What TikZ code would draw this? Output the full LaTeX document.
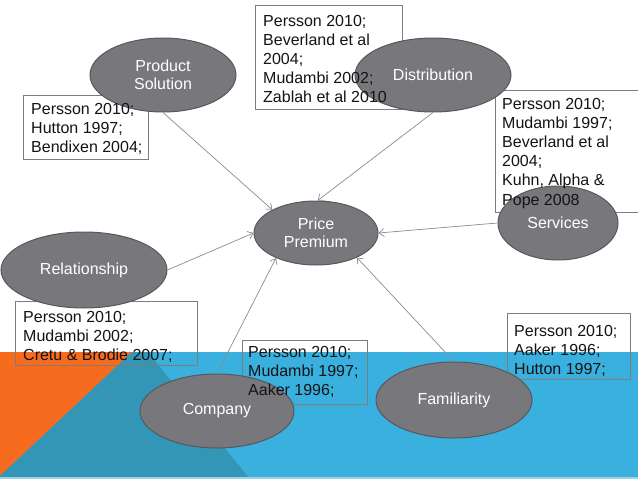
\documentclass[tikz,border=0pt]{standalone}
\usepackage{fontspec}
\setmainfont{Liberation Sans}
\usetikzlibrary{shapes.geometric,arrows.meta}
\definecolor{bandblue}{RGB}{57,176,222}
\definecolor{bandteal}{RGB}{52,150,183}
\definecolor{bandorange}{RGB}{247,107,30}
\definecolor{bandlight}{RGB}{160,208,228}
\definecolor{ellfill}{RGB}{120,120,124}
\definecolor{ellborder}{RGB}{88,88,92}
\definecolor{boxborder}{RGB}{125,125,125}
\definecolor{arrowgray}{RGB}{140,140,140}
\definecolor{reftext}{RGB}{20,20,20}
\tikzset{
  refbox/.style={draw=boxborder, line width=0.8pt, anchor=north west, inner sep=0pt},
  reftxt/.style={anchor=base west, inner sep=0pt, align=left, text=reftext,
    font=\fontsize{16}{18.8}\selectfont},
  ell/.style={ellipse, draw=ellborder, line width=1pt, fill=ellfill, inner sep=0pt,
    text=white, align=center, font=\fontsize{16}{18.5}\selectfont},
  arr/.style={draw=arrowgray, line width=0.7pt, -{Straight Barb[length=5pt,width=8pt]}}
}
\begin{document}
\begin{tikzpicture}[x=1pt,y=-1pt]
\useasboundingbox (0,0) rectangle (638,479);
\fill[white] (0,0) rectangle (638,479);
\fill[bandblue] (0,352) rectangle (638,479);
\fill[bandorange] (0,352) -- (132,352) -- (0,476) -- cycle;
\fill[bandteal] (132,352) -- (148,352) -- (248,477) -- (0,477) -- (0,476) -- cycle;
\fill[bandlight] (0,477) rectangle (638,479);

% reference boxes (borders)
\node[refbox, minimum width=147pt, minimum height=104pt] (btop) at (255,5) {};
\node[refbox, minimum width=125pt, minimum height=64pt] (bprod) at (23,95) {};
\node[refbox, minimum width=150pt, minimum height=122pt] (bdist) at (495,90) {};
\node[refbox, minimum width=182pt, minimum height=64pt] (brel) at (15,301) {};
\node[refbox, minimum width=125pt, minimum height=64pt] (bcomp) at (242,340) {};
\node[refbox, minimum width=123pt, minimum height=66pt] (bfam) at (507,313) {};

% ellipses
\node[ell, minimum width=146pt, minimum height=74pt] (prod) at (163,75) {Product\\Solution};
\node[ell, minimum width=156pt, minimum height=74pt] (dist) at (433,75) {Distribution};
\node[ell, minimum width=124pt, minimum height=64pt] (price) at (316,233) {Price\\Premium};
\node[ell, minimum width=120pt, minimum height=74pt] (serv) at (558,223) {Services};
\node[ell, minimum width=166pt, minimum height=76pt] (rel) at (84,270) {Relationship};
\node[ell, minimum width=154pt, minimum height=74pt] (comp) at (217,411) {Company};
\node[ell, minimum width=156pt, minimum height=76pt] (fam) at (454,400) {Familiarity};

% connectors
\draw[arr] (prod.south) -- (price.152);
\draw[arr] (dist.south) -- (price.87);
\draw[arr] (serv.west) -- (price.east);
\draw[arr] (rel.east) -- (price.west);
\draw[arr] (comp.north) -- (price.212);
\draw[arr] (fam.north) -- (price.329);

% box texts (anchored at the baseline of the last line)
\node[reftxt] (ttop) at (263,102) {Persson 2010;\\Beverland et al\\2004;\\Mudambi 2002;\\Zablah et al 2010};
\node[reftxt] (tprod) at (31,152.5) {Persson 2010;\\Hutton 1997;\\Bendixen 2004;};
\node[reftxt, font=\fontsize{16}{19.2}\selectfont] (tdist) at (502,205) {Persson 2010;\\Mudambi 1997;\\Beverland et al\\2004;\\Kuhn, Alpha \&\\Pope 2008};
\node[reftxt] (trel) at (23,360.5) {Persson 2010;\\Mudambi 2002;\\Cretu \& Brodie 2007;};
\node[reftxt] (tcomp) at (248,395.5) {Persson 2010;\\Mudambi 1997;\\Aaker 1996;};
\node[reftxt] (tfam) at (514,374.5) {Persson 2010;\\Aaker 1996;\\Hutton 1997;};
\end{tikzpicture}
\end{document}
